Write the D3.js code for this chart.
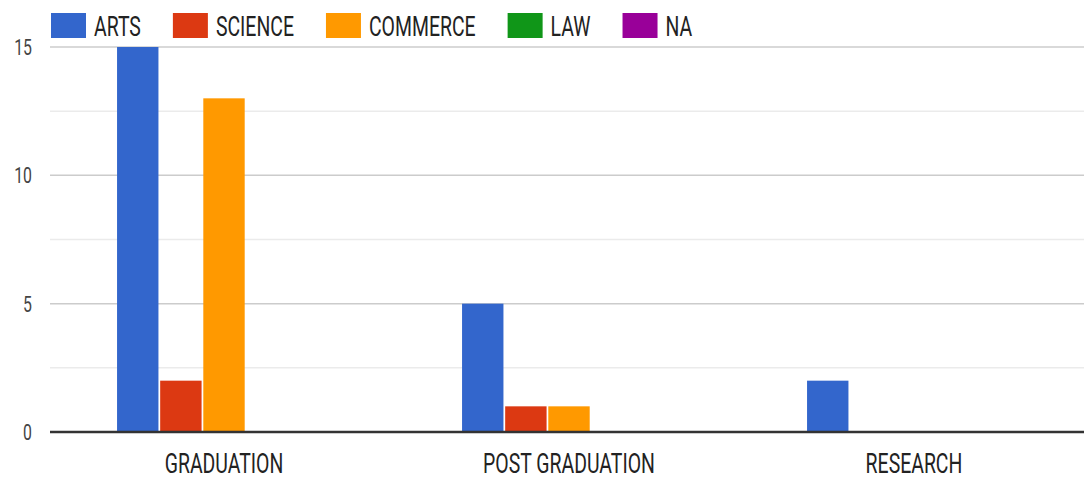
<!DOCTYPE html>
<html>
<head>
<meta charset="utf-8">
<script src="https://cdn.jsdelivr.net/npm/d3@7/dist/d3.min.js"></script>
<style>
  body { margin: 0; background: #fff; }
  svg { display: block; font-family: Roboto, "Liberation Sans", sans-serif; }
</style>
</head>
<body>
<svg id="chart" width="1084" height="481"></svg>
<script>
// data
var categories = ["GRADUATION", "POST GRADUATION", "RESEARCH"];
var series = ["ARTS", "SCIENCE", "COMMERCE", "LAW", "NA"];
var colors = ["#3366cc", "#dc3912", "#ff9900", "#109618", "#990099"];
var arts     = [15, 5, 2];
var science  = [2, 1, 0];
var commerce = [13, 1, 0];
var law      = [0, 0, 0];
var na       = [0, 0, 0];
var yTicks = [0, 5, 10, 15];
var yMinor = [2.5, 7.5, 12.5];

var values = [arts, science, commerce, law, na];
var squeeze = 0.72; // the text in the picture is horizontally condensed

var svg = d3.select("#chart");
var W = 1084;
var plotLeft = 51.5, plotRight = 1086.5, plotTop = 47, plotBottom = 432;

var y = d3.scaleLinear().domain([0, 15]).range([plotBottom, plotTop]);
var x0 = d3.scaleBand().domain(categories).range([plotLeft, plotRight]).padding(0);
var bw = x0.bandwidth();
var x1 = d3.scaleBand().domain(series).range([bw * 0.19, bw * 0.81]).paddingInner(0.04);

// condensed text helper
function ctext(g, x, yy, str, size, fill, anchor) {
  return g.append("text")
    .attr("transform", "translate(" + x + "," + yy + ") scale(" + squeeze + ",1)")
    .attr("font-size", size)
    .attr("fill", fill)
    .attr("text-anchor", anchor || "start")
    .text(str);
}

// gridlines
var grid = svg.append("g");
grid.selectAll("line.minor").data(yMinor).enter().append("line")
  .attr("class", "minor")
  .attr("x1", 50).attr("x2", W)
  .attr("y1", function(d){ return y(d); }).attr("y2", function(d){ return y(d); })
  .attr("stroke", "#ebebeb").attr("stroke-width", 1.5);
grid.selectAll("line.major").data(yTicks.filter(function(d){ return d > 0; })).enter().append("line")
  .attr("class", "major")
  .attr("x1", 50).attr("x2", W)
  .attr("y1", function(d){ return y(d); }).attr("y2", function(d){ return y(d); })
  .attr("stroke", "#cccccc").attr("stroke-width", 1.5);

// y labels
var yl = svg.append("g");
yTicks.forEach(function(t) {
  ctext(yl, 32, y(t) + 8, String(t), 22, "#444", "end");
});

// bars
var groups = svg.append("g").selectAll("g").data(categories).enter().append("g")
  .attr("transform", function(d){ return "translate(" + x0(d) + ",0)"; });

groups.selectAll("rect")
  .data(function(d, i) {
    return series.map(function(s, j) { return { s: s, v: values[j][i], c: colors[j] }; })
      .filter(function(e){ return e.v > 0; });
  })
  .enter().append("rect")
  .attr("x", function(d){ return x1(d.s); })
  .attr("width", x1.bandwidth())
  .attr("y", function(d){ return y(d.v); })
  .attr("height", function(d){ return y(0) - y(d.v); })
  .attr("fill", function(d){ return d.c; });

// baseline
svg.append("line")
  .attr("x1", 50).attr("x2", W)
  .attr("y1", y(0)).attr("y2", y(0))
  .attr("stroke", "#333").attr("stroke-width", 2.5);

// category labels
var xl = svg.append("g");
categories.forEach(function(c) {
  ctext(xl, x0(c) + bw / 2, 473, c, 27, "#222", "middle");
});

// legend
var leg = svg.append("g");
var lx = 51;
series.forEach(function(s, j) {
  leg.append("rect")
    .attr("x", lx).attr("y", 13)
    .attr("width", 35).attr("height", 25)
    .attr("fill", colors[j]);
  var t = ctext(leg, lx + 43, 36, s, 27, "#222", "start");
  var w = t.node().getComputedTextLength() * squeeze;
  lx += 43 + w + 32;
});
</script>
</body>
</html>
